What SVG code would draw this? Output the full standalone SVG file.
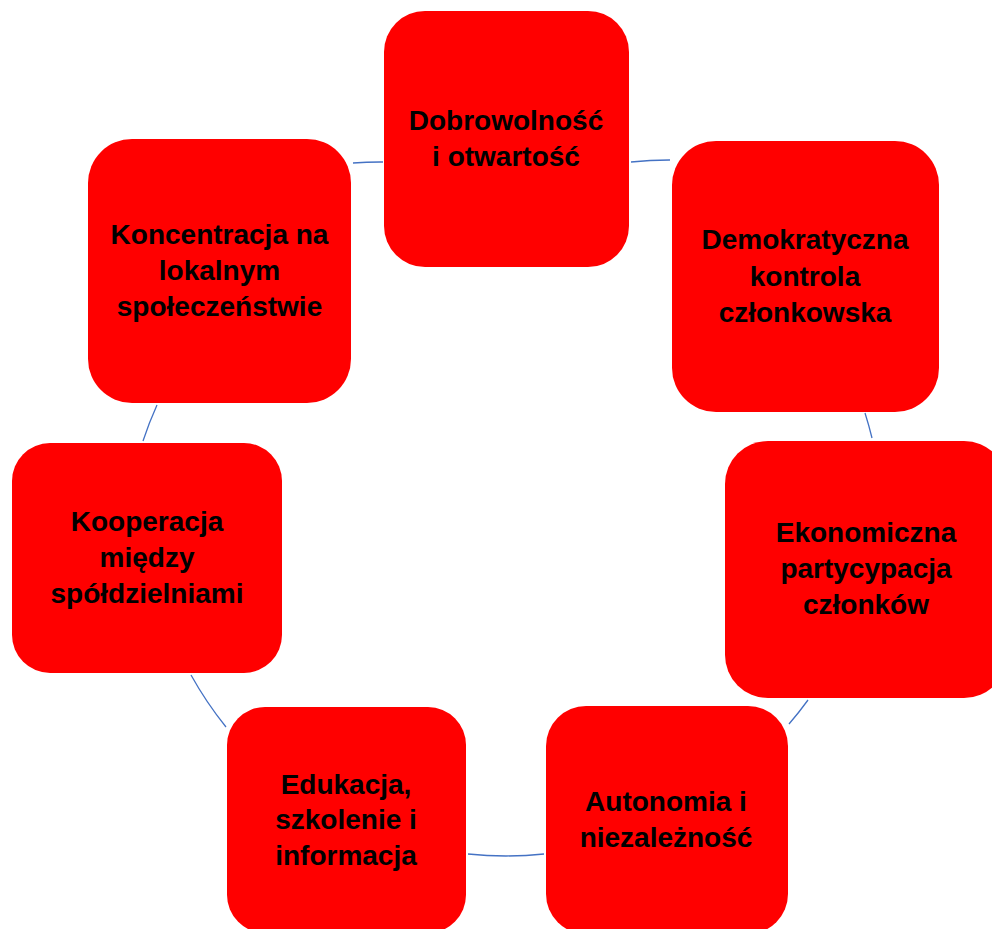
<svg xmlns="http://www.w3.org/2000/svg" width="992" height="929" viewBox="0 0 992 929">
<style>
.box{fill:#FF0000;}
.lbl{font-family:"Liberation Sans",Arial,sans-serif;font-weight:bold;font-size:28px;fill:#000;text-anchor:middle;}
.con{fill:none;stroke:#4472C4;stroke-width:1.3;}
</style>
<rect width="992" height="929" fill="#FFFFFF"/>
<g id="connectors">
<path class="con" d="M631,162 A366,366 0 0 1 670,160"/>
<path class="con" d="M865,413 A366,366 0 0 1 872,438"/>
<path class="con" d="M808,700 A366,366 0 0 1 789,724"/>
<path class="con" d="M544,854 A366,366 0 0 1 468,854"/>
<path class="con" d="M226,727 A366,366 0 0 1 191,675"/>
<path class="con" d="M143,441 A366,366 0 0 1 157,405"/>
<path class="con" d="M353,163 A366,366 0 0 1 383,162"/>
</g>
<g id="node1">
<rect class="box" x="384" y="11" width="245" height="256" rx="41"/>
<text class="lbl" x="506" y="130">Dobrowolność</text>
<text class="lbl" x="506" y="166">i otwartość</text>
</g>
<g id="node2">
<rect class="box" x="672" y="141" width="267" height="271" rx="44"/>
<text class="lbl" x="805" y="249">Demokratyczna</text>
<text class="lbl" x="805" y="286">kontrola</text>
<text class="lbl" x="805" y="322">członkowska</text>
</g>
<g id="node3">
<rect class="box" x="725" y="441" width="282" height="257" rx="43"/>
<text class="lbl" x="866" y="542">Ekonomiczna</text>
<text class="lbl" x="866" y="578">partycypacja</text>
<text class="lbl" x="866" y="614">członków</text>
</g>
<g id="node4">
<rect class="box" x="546" y="706" width="242" height="228" rx="40"/>
<text class="lbl" x="666" y="811">Autonomia i</text>
<text class="lbl" x="666" y="847">niezależność</text>
</g>
<g id="node5">
<rect class="box" x="227" y="707" width="239" height="226" rx="38"/>
<text class="lbl" x="346" y="794">Edukacja,</text>
<text class="lbl" x="346" y="829">szkolenie i</text>
<text class="lbl" x="346" y="865">informacja</text>
</g>
<g id="node6">
<rect class="box" x="12" y="443" width="270" height="230" rx="38"/>
<text class="lbl" x="147" y="531">Kooperacja</text>
<text class="lbl" x="147" y="567">między</text>
<text class="lbl" x="147" y="603">spółdzielniami</text>
</g>
<g id="node7">
<rect class="box" x="88" y="139" width="263" height="264" rx="44"/>
<text class="lbl" x="219.5" y="244">Koncentracja na</text>
<text class="lbl" x="219.5" y="280">lokalnym</text>
<text class="lbl" x="219.5" y="316">społeczeństwie</text>
</g>
</svg>
